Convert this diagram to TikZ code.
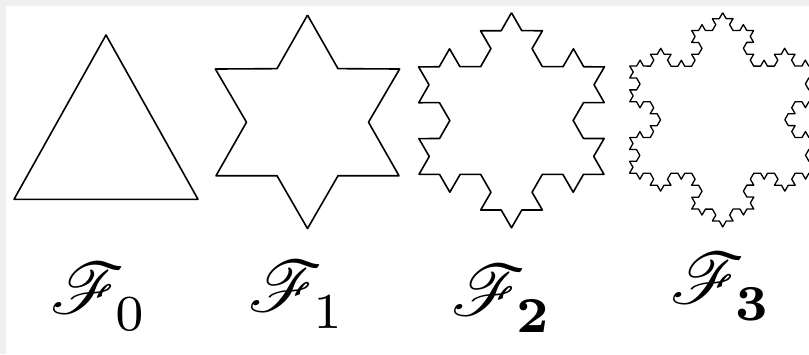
\documentclass[tikz,border=0pt]{standalone}
\usepackage{mathrsfs}
\usetikzlibrary{decorations.fractals}

\definecolor{framegray}{HTML}{F0F0F0}
\newcommand{\lowsub}[1]{\lower0.8pt\hbox{$\scriptstyle #1$}}

\begin{document}
\begin{tikzpicture}[x=1pt,y=-1pt,
  flake/.style={line width=1.6pt,line join=round,decoration=Koch snowflake},
  lbl/.style={inner sep=0pt,scale=7.2}]
  \useasboundingbox (0,0) rectangle (809,354);
  \fill[framegray] (0,0) rectangle (809,354);
  \fill[white] (6,6) rectangle (809,354);
  \clip (6,6) rectangle (809,354);
  % F_0
  \draw[flake] (106,35) -- (198,199.3) -- (14,199.3) -- cycle;
  % F_1
  \draw[flake] decorate{(307.5,15.1) -- (399,175.75) -- (216,175.75) -- cycle};
  % F_2
  \draw[flake] decorate{decorate{(511.5,12.7) -- (604,174.4) -- (419,174.4) -- cycle}};
  % F_3
  \draw[flake,line width=1.3pt] decorate{decorate{decorate{(722.7,12.7) -- (815.9,173.2) -- (629.5,173.2) -- cycle}}};
  % labels
  \node[lbl] (lab0) at (99,297) {$\mathscr{F}_{\lowsub{0}}$};
  \node[lbl] (lab1) at (297,295) {$\mathscr{F}_{\lowsub{1}}$};
  \node[lbl] (lab2) at (502,299) {$\mathscr{F}_{\lowsub{\mathbf{2}}}$};
  \node[lbl] (lab3) at (721,287) {$\mathscr{F}_{\lowsub{\mathbf{3}}}$};
\end{tikzpicture}
\end{document}
